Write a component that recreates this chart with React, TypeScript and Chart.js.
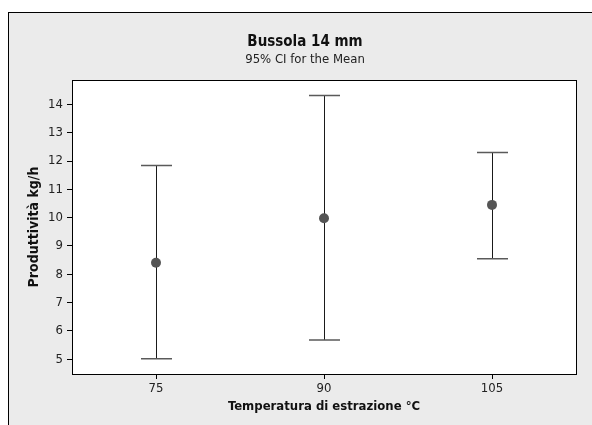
import React, { useEffect, useRef } from 'react';
import { Chart, registerables } from 'chart.js';

Chart.register(...registerables);

const categories = [75, 90, 105];
const means = [8.41, 9.98, 10.45];
const lowerCI = [5.02, 5.68, 8.55];
const upperCI = [11.84, 14.31, 12.3];
const yTicks = [5, 6, 7, 8, 9, 10, 11, 12, 13, 14];
const chartTitle = 'Bussola 14 mm';
const chartSubtitle = '95% CI for the Mean';
const xAxisTitle = 'Temperatura di estrazione °C';
const yAxisTitle = 'Produttività kg/h';

const FONT = '"DejaVu Sans Condensed", "DejaVu Sans", sans-serif';

const backgroundPlugin = {
  id: 'bgFrame',
  beforeDraw(chart: any) {
    const { ctx, chartArea, width, height } = chart;
    ctx.save();
    ctx.fillStyle = '#ffffff';
    ctx.fillRect(0, 0, width, height);
    ctx.fillStyle = '#ebebeb';
    ctx.fillRect(8.5, 12.5, width + 10, height + 10);
    ctx.strokeStyle = '#000000';
    ctx.lineWidth = 1;
    ctx.strokeRect(8.5, 12.5, width + 10, height + 10);
    ctx.fillStyle = '#ffffff';
    ctx.fillRect(chartArea.left, chartArea.top, chartArea.right - chartArea.left, chartArea.bottom - chartArea.top);
    ctx.restore();
  },
};

const errorBarPlugin = {
  id: 'errorBars',
  beforeDatasetsDraw(chart: any) {
    const { ctx } = chart;
    const xs = chart.scales.x;
    const ys = chart.scales.y;
    ctx.save();
    categories.forEach((c, i) => {
      const px = Math.round(xs.getPixelForValue(c)) + 0.5;
      const yl = ys.getPixelForValue(lowerCI[i]);
      const yu = ys.getPixelForValue(upperCI[i]);
      ctx.strokeStyle = '#1a1a1a';
      ctx.lineWidth = 1;
      ctx.beginPath();
      ctx.moveTo(px, yu);
      ctx.lineTo(px, yl);
      ctx.stroke();
      ctx.strokeStyle = '#5a5a5a';
      ctx.lineWidth = 1.5;
      ctx.beginPath();
      ctx.moveTo(px - 15.5, yu);
      ctx.lineTo(px + 15.5, yu);
      ctx.moveTo(px - 15.5, yl);
      ctx.lineTo(px + 15.5, yl);
      ctx.stroke();
    });
    ctx.restore();
  },
};

const framePlugin = {
  id: 'frameTitles',
  afterDraw(chart: any) {
    const { ctx, chartArea } = chart;
    ctx.save();
    ctx.strokeStyle = '#000000';
    ctx.lineWidth = 1;
    ctx.strokeRect(
      Math.round(chartArea.left) + 0.5,
      Math.round(chartArea.top) + 0.5,
      Math.round(chartArea.right - chartArea.left),
      Math.round(chartArea.bottom - chartArea.top)
    );
    ctx.textAlign = 'center';
    ctx.textBaseline = 'middle';
    ctx.fillStyle = '#111111';
    ctx.font = 'bold 15px ' + FONT;
    ctx.fillText(chartTitle, 305, 42);
    ctx.font = '13px ' + FONT;
    ctx.fillStyle = '#222222';
    ctx.fillText(chartSubtitle, 305, 60);
    ctx.restore();
  },
};

export default function App() {
  const ref = useRef<HTMLCanvasElement | null>(null);

  useEffect(() => {
    if (!ref.current) return;
    const chart = new Chart(ref.current, {
      type: 'scatter',
      data: {
        datasets: [
          {
            label: 'Mean',
            data: categories.map((c, i) => ({ x: c, y: means[i] })),
            pointRadius: 5,
            pointBackgroundColor: '#555555',
            pointBorderWidth: 0,
            showLine: false,
          },
        ],
      },
      options: {
        responsive: false,
        animation: false,
        devicePixelRatio: 1,
        layout: { padding: { top: 80, right: 16, left: 0, bottom: 0 } },
        plugins: {
          legend: { display: false },
          tooltip: { enabled: false },
          title: { display: false },
        },
        scales: {
          x: {
            type: 'linear',
            min: 67.5,
            max: 112.5,
            afterBuildTicks: (s: any) => {
              s.ticks = categories.map((v) => ({ value: v }));
            },
            afterFit: (s: any) => {
              s.height = 51;
            },
            ticks: {
              font: { family: FONT, size: 13 },
              color: '#222222',
              padding: 2,
              callback: (v: any) => String(v),
            },
            grid: { display: true, drawOnChartArea: false, drawTicks: true, tickLength: 5, color: '#000000', lineWidth: 1 },
            border: { display: true, color: '#000000', width: 1 },
            title: {
              display: true,
              text: xAxisTitle,
              font: { family: FONT, size: 13, weight: 'bold' },
              color: '#111111',
              padding: { top: 0, bottom: 11 },
            },
          },
          y: {
            type: 'linear',
            min: 4.48,
            max: 14.86,
            afterBuildTicks: (s: any) => {
              s.ticks = yTicks.map((v) => ({ value: v }));
            },
            afterFit: (s: any) => {
              s.width = 72;
            },
            ticks: {
              font: { family: FONT, size: 13 },
              color: '#222222',
              padding: 4,
              callback: (v: any) => String(v),
            },
            grid: { display: true, drawOnChartArea: false, drawTicks: true, tickLength: 5, color: '#000000', lineWidth: 1 },
            border: { display: true, color: '#000000', width: 1 },
            title: {
              display: true,
              text: yAxisTitle,
              font: { family: FONT, size: 14, weight: 'bold' },
              color: '#111111',
              padding: { top: 26, bottom: 0 },
            },
          },
        },
      },
      plugins: [backgroundPlugin, errorBarPlugin, framePlugin],
    } as any);
    return () => chart.destroy();
  }, []);

  return (
    <div style={{ position: 'absolute', left: 0, top: 0, width: 592, height: 425 }}>
      <canvas ref={ref} width={592} height={425} style={{ width: 592, height: 425, display: 'block' }} />
    </div>
  );
}
